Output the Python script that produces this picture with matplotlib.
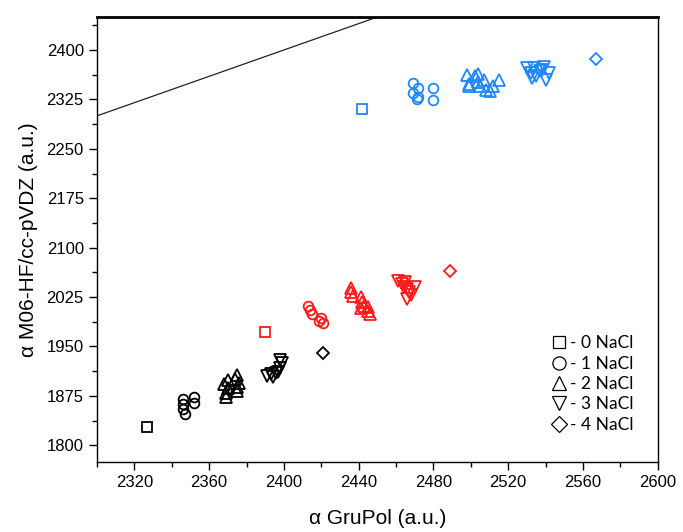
import matplotlib
matplotlib.use("Agg")
import matplotlib.pyplot as plt
from matplotlib.ticker import MultipleLocator
from matplotlib.lines import Line2D

plt.rcParams['font.family'] = ['Liberation Sans', 'DejaVu Sans']

# black group
blk_sq_x = [2327]
blk_sq_y = [1828]
blk_ci_x = [2346, 2346, 2346, 2347, 2352, 2352]
blk_ci_y = [1870, 1862, 1855, 1848, 1873, 1864]
blk_up_x = [2369, 2369, 2370, 2368, 2370, 2375, 2375, 2376, 2374, 2375]
blk_up_y = [1874, 1880, 1887, 1893, 1899, 1882, 1888, 1895, 1901, 1907]
blk_dn_x = [2391, 2393, 2394, 2397, 2398, 2399, 2398, 2396]
blk_dn_y = [1905, 1908, 1903, 1912, 1918, 1925, 1929, 1910]
blk_di_x = [2421]
blk_di_y = [1940]

# red group
red_sq_x = [2390]
red_sq_y = [1972]
red_ci_x = [2413, 2414, 2415, 2420, 2421, 2419]
red_ci_y = [2012, 2005, 1999, 1993, 1986, 1989]
red_up_x = [2436, 2436, 2437, 2441, 2442, 2443, 2441, 2445, 2445, 2446]
red_up_y = [2038, 2033, 2027, 2025, 2018, 2012, 2008, 2010, 2004, 1999]
red_dn_x = [2461, 2463, 2464, 2466, 2467, 2468, 2466, 2465, 2470]
red_dn_y = [2050, 2045, 2040, 2037, 2033, 2028, 2022, 2048, 2040]
red_di_x = [2489]
red_di_y = [2064]

# blue group
blu_sq_x = [2442]
blu_sq_y = [2311]
blu_ci_x = [2469, 2469, 2472, 2472, 2471, 2480, 2480]
blu_ci_y = [2350, 2335, 2343, 2328, 2325, 2342, 2324]
blu_up_x = [2498, 2499, 2502, 2504, 2505, 2507, 2508, 2510, 2512, 2515, 2499, 2504]
blu_up_y = [2362, 2348, 2360, 2352, 2345, 2355, 2340, 2338, 2345, 2355, 2345, 2364]
blu_dn_x = [2530, 2532, 2534, 2535, 2537, 2539, 2540, 2542, 2533, 2538]
blu_dn_y = [2373, 2365, 2372, 2360, 2368, 2374, 2355, 2365, 2357, 2370]
blu_di_x = [2567]
blu_di_y = [2387]

# y = x reference line
line_x = [2300, 2450]
line_y = [2300, 2450]

legend_labels = ['- 0 NaCl', '- 1 NaCl', '- 2 NaCl', '- 3 NaCl', '- 4 NaCl']
markers = ['s', 'o', '^', 'v', 'D']

groups = [
    ('black', [(blk_sq_x, blk_sq_y), (blk_ci_x, blk_ci_y), (blk_up_x, blk_up_y),
               (blk_dn_x, blk_dn_y), (blk_di_x, blk_di_y)]),
    ('#ff1a1a', [(red_sq_x, red_sq_y), (red_ci_x, red_ci_y), (red_up_x, red_up_y),
                 (red_dn_x, red_dn_y), (red_di_x, red_di_y)]),
    ('#1e88ff', [(blu_sq_x, blu_sq_y), (blu_ci_x, blu_ci_y), (blu_up_x, blu_up_y),
                 (blu_dn_x, blu_dn_y), (blu_di_x, blu_di_y)]),
]
sizes = [6.5, 7, 8, 8, 6]

fig = plt.figure(figsize=(6.83, 5.32), dpi=100)
ax = fig.add_axes([0.142, 0.132, 0.821, 0.836])

ax.axline((line_x[0], line_y[0]), (line_x[1], line_y[1]), color='#222222', lw=0.9)

for color, sets in groups:
    for (xs, ys), m, ms in zip(sets, markers, sizes):
        ax.plot(xs, ys, linestyle='none', marker=m, ms=ms, mfc='none',
                mec=color, mew=1.3)

ax.set_xlim(2300, 2600)
ax.set_ylim(1775, 2450)
ax.xaxis.set_minor_locator(MultipleLocator(20))
ax.yaxis.set_major_locator(MultipleLocator(75))
ax.yaxis.set_minor_locator(MultipleLocator(37.5))
ax.set_xticks(range(2320, 2601, 40))
ax.tick_params(which='major', direction='out', length=6, width=1, labelsize=12,
               top=False, right=False)
ax.tick_params(which='minor', direction='out', length=3.5, width=1,
               top=False, right=False)
for s in ax.spines.values():
    s.set_linewidth(1)
ax.spines['top'].set_linewidth(2)

ax.set_xlabel('α GruPol (a.u.)', fontsize=15, labelpad=14)
ax.set_ylabel('α M06-HF/cc-pVDZ (a.u.)', fontsize=15, labelpad=6)

handles = [Line2D([], [], linestyle='none', marker=m, ms=ms + 2.5, mfc='none',
                  mec='black', mew=0.9) for m, ms in zip(markers, sizes)]
ax.legend(handles, legend_labels, loc='lower right', frameon=False,
          prop={'family': 'Lato', 'size': 12.5}, handletextpad=0.15,
          labelspacing=0.25, handlelength=1.0, bbox_to_anchor=(0.985, 0.03))

fig.savefig('out.png', dpi=100)
